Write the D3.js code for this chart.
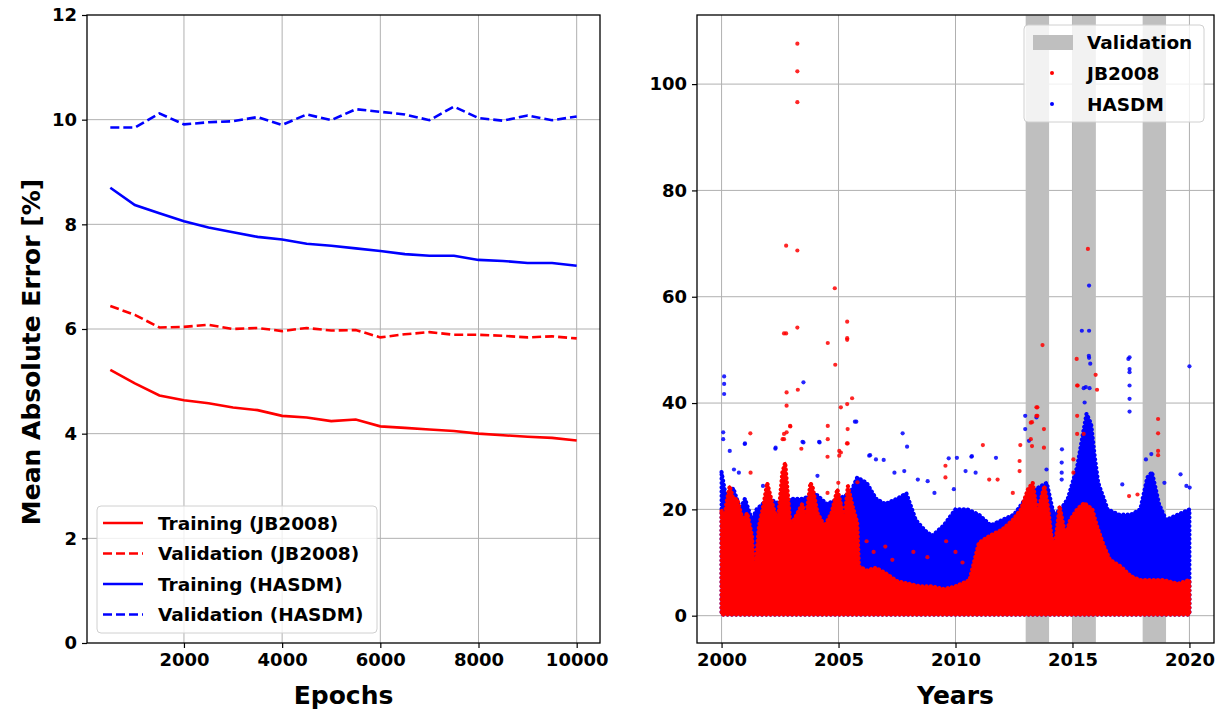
<!DOCTYPE html>
<html>
<head>
<meta charset="utf-8">
<script src="https://cdn.jsdelivr.net/npm/d3@7"></script>
<style>
  body { margin: 0; background: #fff; }
  svg text { font-family: "DejaVu Sans", sans-serif; font-weight: bold; fill: #000; }
  .tick text { font-size: 18px; }
  .grid line { stroke: #b0b0b0; stroke-width: 1; }
</style>
</head>
<body>
<div id="graphicContainer"></div>
<script>
// ---- left panel: MAE vs epochs ----
var epochs = [500, 1000, 1500, 2000, 2500, 3000, 3500, 4000, 4500, 5000,
  5500, 6000, 6500, 7000, 7500, 8000, 8500, 9000, 9500, 10000]
var trainJB = [5.22, 4.96, 4.73, 4.64, 4.58, 4.50, 4.45, 4.34, 4.31, 4.24,
  4.27, 4.14, 4.11, 4.08, 4.05, 4.00, 3.97, 3.94, 3.92, 3.87]
var valJB = [6.44, 6.27, 6.03, 6.04, 6.08, 6.00, 6.02, 5.96, 6.02, 5.97,
  5.98, 5.84, 5.90, 5.94, 5.89, 5.89, 5.87, 5.84, 5.86, 5.82]
var trainHASDM = [8.70, 8.37, 8.21, 8.06, 7.94, 7.85, 7.76, 7.71, 7.63, 7.59,
  7.54, 7.49, 7.43, 7.40, 7.40, 7.32, 7.30, 7.26, 7.26, 7.21]
var valHASDM = [9.85, 9.85, 10.12, 9.91, 9.95, 9.97, 10.05, 9.90, 10.10, 9.99,
  10.20, 10.15, 10.10, 9.99, 10.25, 10.03, 9.98, 10.08, 9.99, 10.06]
var seriesNames = ["Training (JB2008)", "Validation (JB2008)", "Training (HASDM)", "Validation (HASDM)"]

// ---- right panel: error over years ----
var validationSpans = [[2013, 2014], [2015, 2016], [2018, 2019]]
// upper edge of the dense cloud of points
var jbEnvYears = [2000.0, 2000.1, 2000.2, 2000.35, 2000.5, 2000.67, 2000.9, 2001.1, 2001.3, 2001.4, 2001.5,
  2001.6, 2001.8, 2001.95, 2002.2, 2002.4, 2002.6, 2002.72, 2002.85, 2002.95, 2003.25,
  2003.45, 2003.6, 2003.8, 2003.9, 2004.1, 2004.4, 2004.7, 2004.95, 2005.1, 2005.25, 2005.4,
  2005.6, 2005.8, 2005.87, 2006.2, 2006.6, 2007.0, 2007.5, 2008.0, 2008.5, 2009.0,
  2009.5, 2010.0, 2010.6, 2011.0, 2011.45, 2012.0, 2012.45, 2012.8, 2013.1, 2013.3,
  2013.5, 2013.8, 2013.95, 2014.1, 2014.25, 2014.45, 2014.7, 2014.9, 2015.2, 2015.5,
  2015.85, 2016.05, 2016.35, 2016.6, 2017.05, 2017.5, 2017.9, 2018.35, 2018.9, 2019.5, 2020.0]
var jbEnvTop = [19.7, 17.5, 21, 24.4, 22, 21.9, 18, 19.3, 15, 8, 12,
  16.8, 21, 25, 20.6, 17.5, 27, 28.8, 22, 16.8, 19.3,
  21, 18, 25, 24, 19.3, 16.8, 19.3, 23.8, 21, 18, 24.4,
  20.6, 17.5, 9.3, 8.5, 9, 8, 6.5, 6, 5.5, 5.5,
  5, 5.5, 6.7, 13.7, 15, 16.2, 18, 20, 23.8, 25,
  19.3, 24.4, 20.6, 15, 13, 20.6, 15, 18, 20, 21.2,
  20, 16.8, 13, 10.5, 9.3, 7.4, 6.7, 6.7, 6.7, 6, 6.7]
var hasdmEnvYears = [2000.0, 2000.2, 2000.5, 2000.8, 2001.0, 2001.3, 2001.5, 2002.0, 2002.5, 2003.0,
  2003.5, 2004.0, 2004.5, 2005.0, 2005.5, 2005.8, 2006.2, 2006.6, 2007.0, 2007.5,
  2007.9, 2008.3, 2008.7, 2009.0, 2009.5, 2010.0, 2010.5, 2011.0, 2011.5, 2012.0,
  2012.5, 2013.0, 2013.5, 2013.9, 2014.2, 2014.5, 2014.8, 2015.2, 2015.4, 2015.6,
  2015.8, 2015.95, 2016.1, 2016.5, 2017.0, 2017.5, 2017.9, 2018.2, 2018.4, 2018.7, 2019.0, 2019.5, 2020.0]
var hasdmEnvTop = [27, 22, 24, 20, 22, 18, 20, 22, 21, 22,
  22, 23, 21, 22, 23, 26, 25, 22, 21, 22,
  23, 18, 16, 15, 17, 20, 20, 19, 17, 18,
  19, 22, 24, 25, 19, 20, 22, 28, 33, 38,
  36, 30, 25, 20, 19, 19, 20, 26, 27, 21, 18, 19, 20]
// individual points outside the dense cloud
var jbOutYears = [2003.24, 2003.24, 2003.24, 2002.76, 2003.24, 2004.84, 2005.37, 2002.67, 2002.76, 2003.24,
  2005.37, 2005.37, 2004.54, 2013.72, 2015.66, 2015.18, 2004.86, 2002.78, 2002.78, 2003.26,
  2005.1, 2005.37, 2005.58, 2013.46, 2013.46, 2013.78, 2015.2, 2015.2, 2015.2, 2015.99,
  2016.05, 2018.66, 2018.66, 2018.66, 2018.66, 2001.23, 2004.54, 2004.54, 2004.99, 2005.1,
  2005.39, 2005.39, 2011.17, 2012.77, 2002.78, 2002.94, 2002.67, 2013.22, 2013.22, 2002.93,
  2002.67, 2002.61, 2004.53, 2005.36, 2005.03, 2005.03, 2003.41, 2001.24, 2004.53, 2005.81,
  2013.27, 2013.27, 2013.5, 2013.5, 2013.78, 2015.22, 2015.48, 2009.57, 2009.57, 2012.74,
  2012.74, 2012.45, 2011.8, 2011.44, 2017.42, 2017.78, 2015.04, 2015.04, 2006.5, 2007.0,
  2007.3, 2008.2, 2009.6, 2010.0, 2010.3, 2006.2, 2008.8]
var jbOutVals = [107.6, 102.4, 96.6, 69.6, 68.7, 61.6, 55.3, 53.1, 53.1, 54.2,
  52.2, 51.9, 51.3, 50.9, 69.0, 48.3, 47.2, 42.0, 39.5, 42.5,
  39.2, 39.8, 40.9, 39.2, 37.6, 35.1, 43.3, 37.6, 34.2, 45.3,
  42.5, 37.0, 34.3, 31.0, 30.2, 34.3, 35.7, 33.2, 25.0, 30.7,
  35.1, 32.4, 32.1, 32.1, 34.5, 35.6, 33.2, 36.3, 33.2, 35.7,
  34.2, 33.2, 29.9, 32.4, 31.0, 30.1, 31.4, 26.9, 23.1, 25.1,
  36.4, 31.9, 39.2, 37.6, 31.6, 43.3, 34.2, 28.2, 26.0, 29.1,
  27.2, 23.1, 25.6, 25.6, 22.5, 22.8, 29.4, 26.9, 12, 13,
  10.5, 12, 14, 12, 10, 14, 11]
var hasdmOutYears = [2015.71, 2015.4, 2015.71, 2015.71, 2017.39, 2000.11, 2000.11, 2000.11, 2003.5, 2017.44,
  2017.44, 2017.44, 2017.44, 2017.44, 2017.44, 2020.0, 2015.7, 2015.76, 2012.98, 2012.98,
  2007.74, 2007.93, 2005.76, 2004.19, 2003.5, 2002.3, 2000.99, 2000.35, 2014.55, 2015.57,
  2015.52, 2015.64, 2018.37, 2019.62, 2011.73, 2010.06, 2010.7, 2006.35, 2000.07, 2000.07,
  2001.0, 2002.31, 2003.46, 2004.17, 2005.7, 2006.31, 2006.6, 2006.93, 2007.39, 2007.81,
  2008.39, 2008.81, 2009.1, 2000.53, 2000.74, 2001.77, 2004.1, 2009.71, 2010.68, 2013.14,
  2014.54, 2014.54, 2014.54, 2015.48, 2015.73, 2018.14, 2019.87, 2020.01, 2009.93, 2010.43,
  2010.86, 2013.46, 2017.13, 2018.93, 2013.89]
var hasdmOutVals = [62.1, 53.6, 53.6, 48.5, 48.3, 45.0, 43.6, 41.7, 43.9, 48.6,
  46.4, 45.8, 43.3, 40.8, 38.4, 46.9, 48.9, 47.4, 37.6, 35.1,
  34.3, 31.8, 36.5, 32.6, 32.6, 31.4, 32.3, 31.0, 31.3, 43.0,
  40.1, 37.0, 30.4, 26.6, 29.7, 29.7, 30.0, 30.2, 34.5, 33.2,
  32.4, 31.6, 32.7, 32.7, 36.5, 30.1, 29.4, 29.3, 26.9, 27.2,
  25.6, 25.3, 23.1, 27.5, 26.9, 24.4, 26.3, 29.6, 29.9, 32.9,
  28.8, 26.9, 25.6, 42.8, 42.8, 29.4, 24.4, 24.1, 23.8, 27.2,
  26.9, 37.3, 24.7, 25.0, 27.5]

var red = "#ff0000"
var blue = "#0000ff"

var width = 1222
var height = 713
var plotTop = 15, plotBottom = 643

var svg = d3.select("#graphicContainer").append("svg")
  .attr("width", width)
  .attr("height", height)

function drawGrid(g, x, y, xTicks, yTicks, x0, x1) {
  var grid = g.append("g").attr("class", "grid")
  grid.selectAll(".gx").data(xTicks).enter().append("line")
    .attr("x1", d => x(d)).attr("x2", d => x(d))
    .attr("y1", plotTop).attr("y2", plotBottom)
  grid.selectAll(".gy").data(yTicks).enter().append("line")
    .attr("x1", x0).attr("x2", x1)
    .attr("y1", d => y(d)).attr("y2", d => y(d))
}

function drawAxes(g, x, y, xTicks, yTicks, x0, x1) {
  var xAxis = d3.axisBottom(x).tickValues(xTicks).tickFormat(d3.format("d"))
    .tickSize(5).tickPadding(5).tickSizeOuter(0)
  var yAxis = d3.axisLeft(y).tickValues(yTicks).tickFormat(d3.format("d"))
    .tickSize(5).tickPadding(5).tickSizeOuter(0)
  g.append("g").attr("transform", "translate(0," + plotBottom + ")").call(xAxis)
  g.append("g").attr("transform", "translate(" + x0 + ",0)").call(yAxis)
  g.selectAll(".domain").remove()
  g.selectAll(".tick line").attr("stroke", "#000").attr("stroke-width", 1.2)
  g.append("rect")
    .attr("x", x0).attr("y", plotTop)
    .attr("width", x1 - x0).attr("height", plotBottom - plotTop)
    .attr("fill", "none").attr("stroke", "#000").attr("stroke-width", 1.3)
}

// ================= LEFT =================
var lx0 = 87, lx1 = 600
var xL = d3.scaleLinear().domain([25, 10475]).range([lx0, lx1])
var yL = d3.scaleLinear().domain([0, 12]).range([plotBottom, plotTop])
var left = svg.append("g")

drawGrid(left, xL, yL, [2000, 4000, 6000, 8000, 10000], [2, 4, 6, 8, 10], lx0, lx1)

var lineSeries = [
  { name: seriesNames[0], values: trainJB, color: red, dash: null },
  { name: seriesNames[1], values: valJB, color: red, dash: "9,4" },
  { name: seriesNames[2], values: trainHASDM, color: blue, dash: null },
  { name: seriesNames[3], values: valHASDM, color: blue, dash: "9,4" }
]

var line = d3.line()
  .x((d, i) => xL(epochs[i]))
  .y(d => yL(d))

left.selectAll(".series")
  .data(lineSeries)
  .enter().append("path")
  .attr("class", "series")
  .attr("d", d => line(d.values))
  .attr("fill", "none")
  .attr("stroke", d => d.color)
  .attr("stroke-width", 2.6)
  .attr("stroke-dasharray", d => d.dash)

drawAxes(left, xL, yL, [2000, 4000, 6000, 8000, 10000], [0, 2, 4, 6, 8, 10, 12], lx0, lx1)

left.append("text")
  .attr("transform", "translate(31,352) rotate(-90)")
  .attr("text-anchor", "middle")
  .attr("dominant-baseline", "central")
  .style("font-size", "25px")
  .text("Mean Absolute Error [%]")

left.append("text")
  .attr("x", (lx0 + lx1) / 2).attr("y", 704)
  .attr("text-anchor", "middle")
  .style("font-size", "25px")
  .text("Epochs")

// legend
var legL = left.append("g").attr("transform", "translate(97,506)")
legL.append("rect")
  .attr("width", 280).attr("height", 127).attr("rx", 4)
  .attr("fill", "#fff").attr("fill-opacity", 0.8)
  .attr("stroke", "#d0d0d0")
lineSeries.forEach(function (s, i) {
  var yy = 17 + i * 30.5
  legL.append("line")
    .attr("x1", 6).attr("x2", 46).attr("y1", yy).attr("y2", yy)
    .attr("stroke", s.color).attr("stroke-width", 2.6)
    .attr("stroke-dasharray", s.dash)
  legL.append("text")
    .attr("x", 61).attr("y", yy)
    .attr("dominant-baseline", "central")
    .style("font-size", "18.5px")
    .text(s.name)
})

// ================= RIGHT =================
var rx0 = 697, rx1 = 1214
var xR = d3.scaleLinear().domain([1998.95, 2021.05]).range([rx0, rx1])
var yR = d3.scaleLinear().domain([-5.14, 113]).range([plotBottom, plotTop])
var right = svg.append("g")

drawGrid(right, xR, yR, [2000, 2005, 2010, 2015, 2020], [0, 20, 40, 60, 80, 100], rx0, rx1)

right.selectAll(".band")
  .data(validationSpans)
  .enter().append("rect")
  .attr("class", "band")
  .attr("x", d => xR(d[0]))
  .attr("width", d => xR(d[1]) - xR(d[0]))
  .attr("y", plotTop + 0.5)
  .attr("height", plotBottom - plotTop - 1)
  .attr("fill", "#bfbfbf")

function cloud(years, tops) {
  return d3.area()
    .x((d, i) => xR(years[i]))
    .y0(yR(0.2))
    .y1(d => yR(d))(tops)
}

// dense cloud: filled area with a beaded edge so it reads as stacked dots
function drawCloud(years, tops, color) {
  var d = cloud(years, tops)
  right.append("path")
    .attr("d", d)
    .attr("fill", color)
    .attr("stroke", color).attr("stroke-width", 1.5).attr("stroke-linejoin", "round")
  right.append("path")
    .attr("d", d)
    .attr("fill", "none")
    .attr("stroke", color).attr("stroke-width", 4.2)
    .attr("stroke-linecap", "round")
    .attr("stroke-dasharray", "0.1,4.2")
}

drawCloud(hasdmEnvYears, hasdmEnvTop, blue)

right.selectAll(".hasdmPt")
  .data(hasdmOutVals)
  .enter().append("circle")
  .attr("class", "hasdmPt")
  .attr("cx", (d, i) => xR(hasdmOutYears[i]))
  .attr("cy", d => yR(d))
  .attr("r", 2.1)
  .attr("fill", blue).attr("fill-opacity", 0.85)

drawCloud(jbEnvYears, jbEnvTop, red)

right.selectAll(".jbPt")
  .data(jbOutVals)
  .enter().append("circle")
  .attr("class", "jbPt")
  .attr("cx", (d, i) => xR(jbOutYears[i]))
  .attr("cy", d => yR(d))
  .attr("r", 2.1)
  .attr("fill", red).attr("fill-opacity", 0.85)

drawAxes(right, xR, yR, [2000, 2005, 2010, 2015, 2020], [0, 20, 40, 60, 80, 100], rx0, rx1)

right.append("text")
  .attr("x", (rx0 + rx1) / 2).attr("y", 704)
  .attr("text-anchor", "middle")
  .style("font-size", "25px")
  .text("Years")

// legend
var legR = right.append("g").attr("transform", "translate(1024,25)")
legR.append("rect")
  .attr("width", 180).attr("height", 97).attr("rx", 4)
  .attr("fill", "#fff").attr("fill-opacity", 0.8)
  .attr("stroke", "#d0d0d0")
legR.append("rect")
  .attr("x", 9).attr("y", 10).attr("width", 40).attr("height", 15)
  .attr("fill", "#bfbfbf")
legR.append("circle").attr("cx", 28).attr("cy", 48).attr("r", 2).attr("fill", red)
legR.append("circle").attr("cx", 28).attr("cy", 79).attr("r", 2).attr("fill", blue)
var legNames = ["Validation", "JB2008", "HASDM"]
legNames.forEach(function (n, i) {
  legR.append("text")
    .attr("x", 63).attr("y", 17 + i * 31)
    .attr("dominant-baseline", "central")
    .style("font-size", "18.5px")
    .text(n)
})
</script>
</body>
</html>
